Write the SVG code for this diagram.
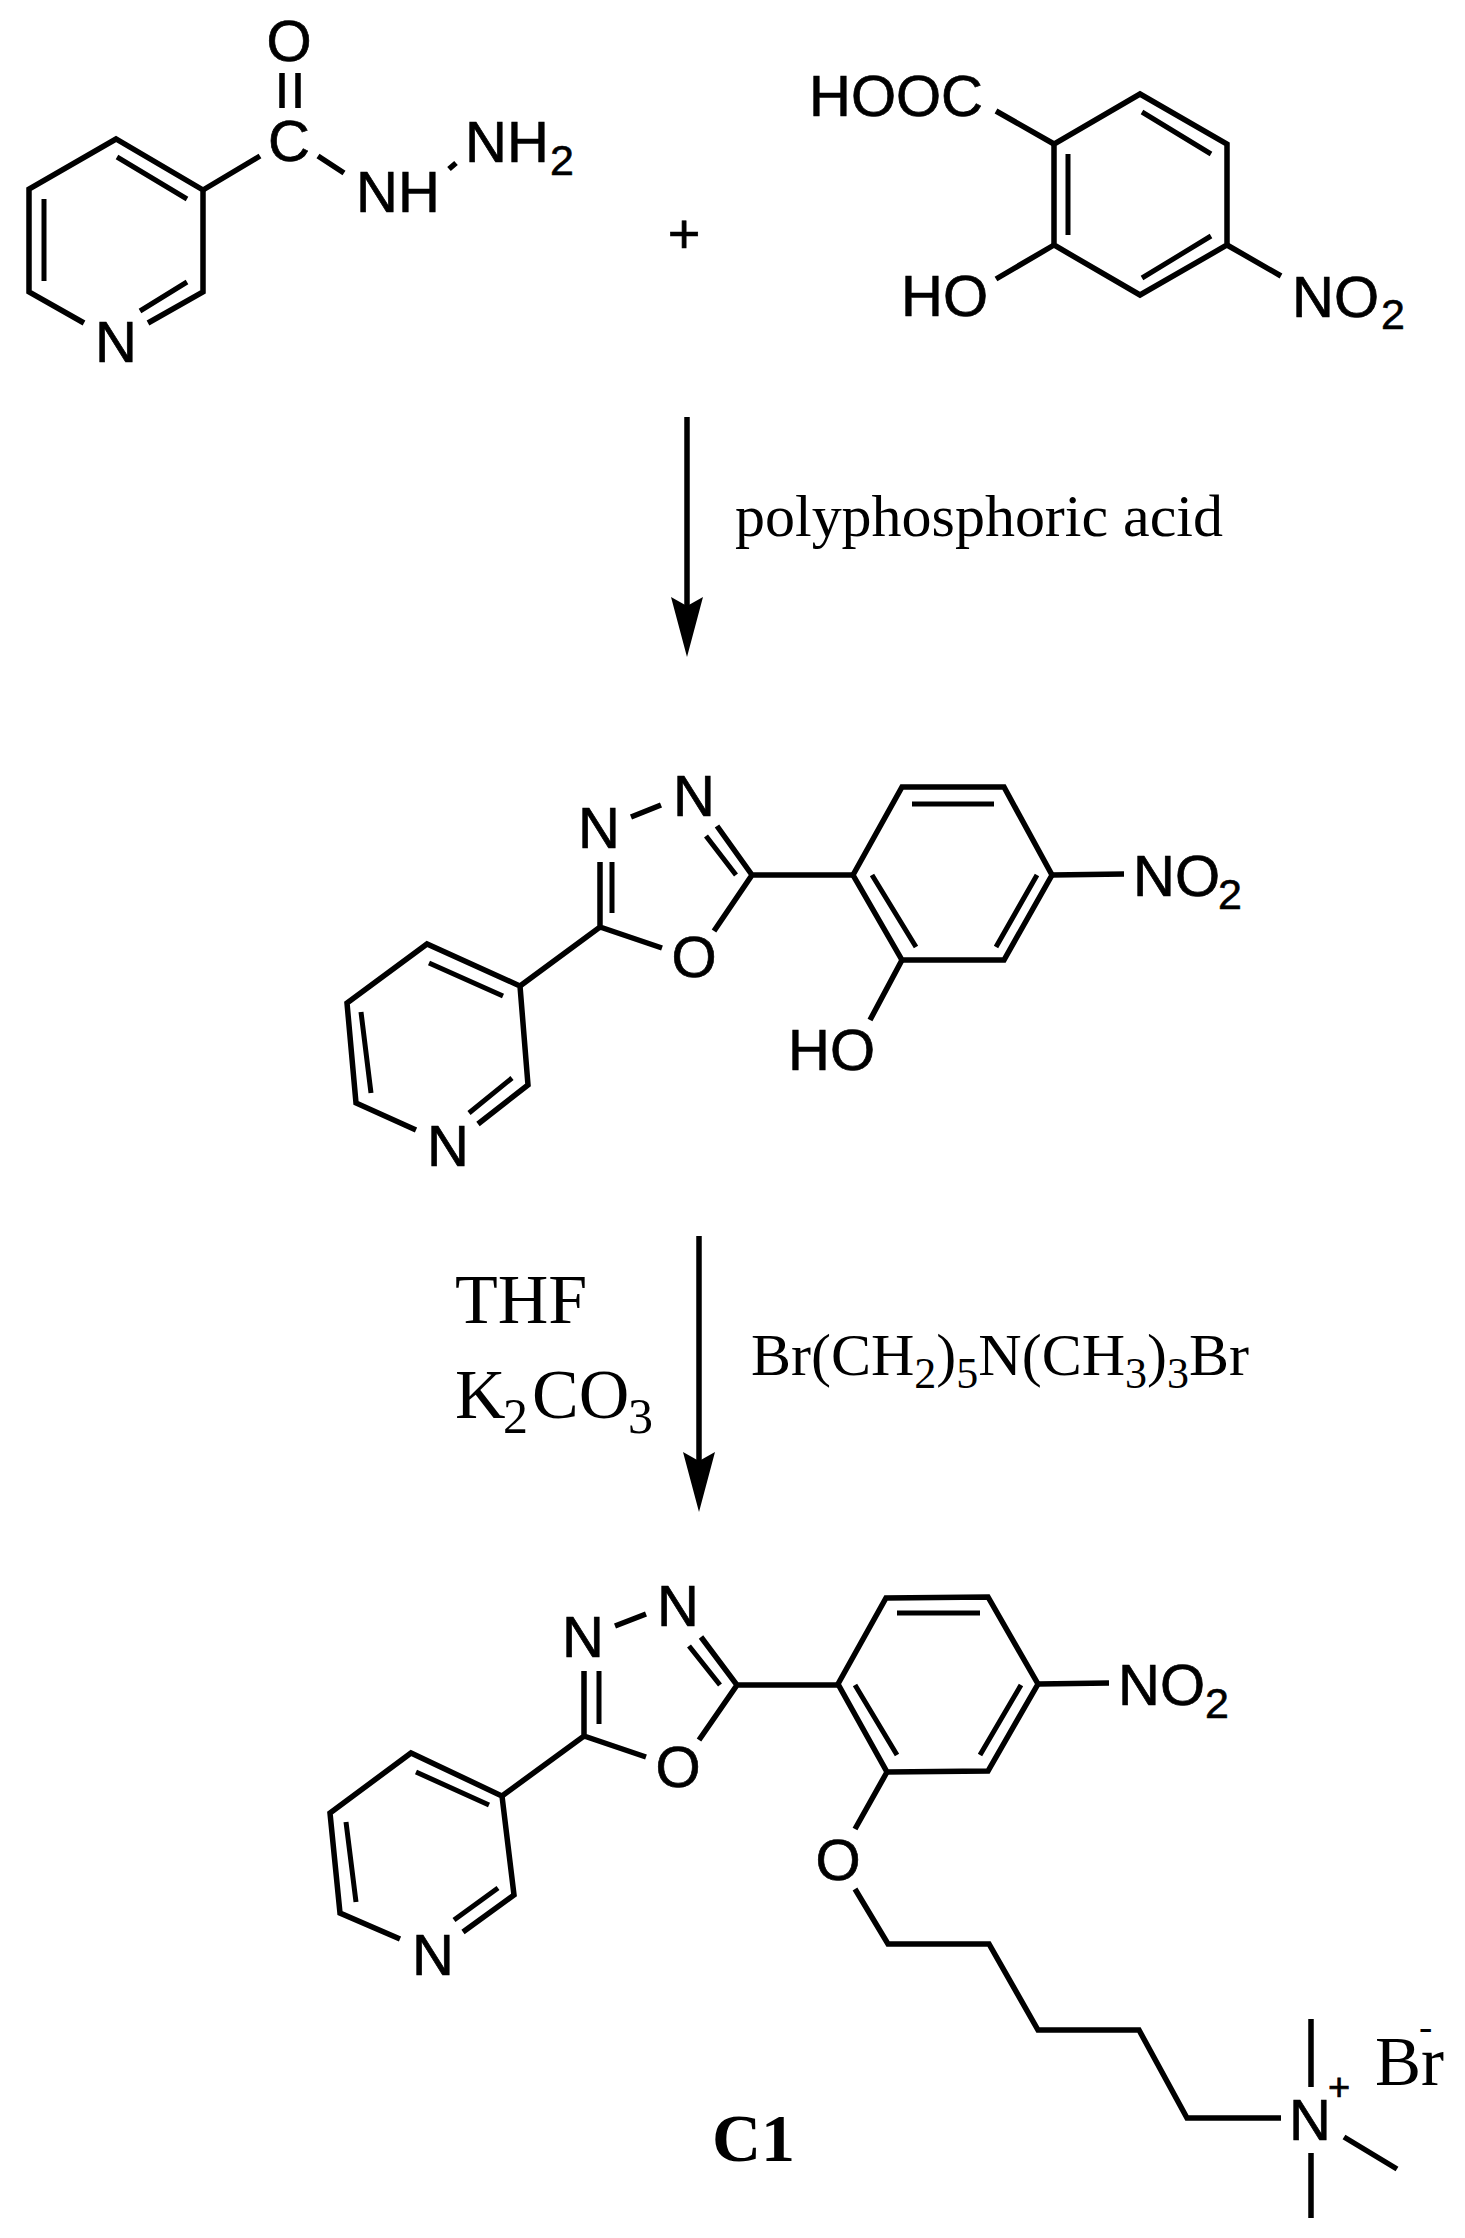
<svg xmlns="http://www.w3.org/2000/svg" width="1465" height="2238" viewBox="0 0 1465 2238">
<style>
.b{fill:none;stroke:#000;stroke-width:5.5;stroke-linecap:butt;stroke-linejoin:miter}
.i{fill:none;stroke:#000;stroke-width:5}
.a{font-family:"Liberation Sans",Arial,sans-serif;font-size:58px;fill:#000;stroke:#000;stroke-width:.7}
.s{font-family:"Liberation Sans",Arial,sans-serif;font-size:43px;fill:#000;stroke:#000;stroke-width:.6}
.t{font-family:"Liberation Serif","Times New Roman",serif;fill:#000}
.m{text-anchor:middle}
</style>
<defs>
<path id="head" d="M0 0L-16 -60L0 -51L16 -60Z" fill="#000"/>
</defs>
<rect width="1465" height="2238" fill="#fff"/>

<g id="nicotinic-hydrazide">
<path class="b" d="M84 323L29 292L29 189L116 139L203 190L203 292L148 323"/>
<path class="i" d="M140 311L187 282M44 199L44 281M117 157L187 199"/>
<path class="b" d="M203 190L260 156M318 156L344 173M449 169L456 163"/>
<path class="b" d="M282 73L282 108M298 73L298 108"/>
<text class="a m" x="116" y="362">N</text>
<text class="a m" x="289" y="161">C</text>
<text class="a m" x="289" y="61">O</text>
<text class="a" x="356" y="212">NH</text>
<text class="a" x="465" y="162">NH</text>
<text class="s" x="550" y="175">2</text>
</g>

<g id="plus"><text class="a m" x="684" y="253" style="font-size:56px">+</text></g>

<g id="nitrosalicylic-acid">
<path class="b" d="M1140 94L1227 144L1227 245L1140 295L1054 245L1054 144Z"/>
<path class="i" d="M1142 112L1211 154M1068 154L1068 235M1142 278L1211 236"/>
<path class="b" d="M996 111L1054 144M996 279L1054 245M1227 245L1281 276"/>
<text class="a" x="809" y="116">HOOC</text>
<text class="a" x="901" y="316">HO</text>
<text class="a" x="1292" y="317">NO</text>
<text class="s" x="1381" y="329">2</text>
</g>

<g id="connectors">
<path class="b" d="M687 417L687 610"/>
<use href="#head" x="687" y="657"/>
<path class="b" d="M699 1236L699 1465"/>
<use href="#head" x="699" y="1512"/>
</g>

<g id="label-polyphosphoric-acid"><text class="t" x="735" y="536" font-size="60" textLength="488">polyphosphoric acid</text></g>

<g id="oxadiazole-intermediate">
<path class="b" d="M416 1130L356 1103L347 1003L427 944L520 986L528 1085L478 1124"/>
<path class="i" d="M469 1113L512 1078M361 1012L371 1093M429 963L503 996"/>
<path class="b" d="M520 986L600 927L662 948M600 927L600 862M714 931L752 875L717 826M631 817L661 805M752 875L853 875"/>
<path class="i" d="M612 862L612 913M736 875L706 836"/>
<path class="b" d="M853 875L902 787L1004 787L1052 875L1004 960L902 960Z"/>
<path class="i" d="M912 804L994 804M872 875L916 947M1037 875L996 947"/>
<path class="b" d="M1052 875L1124 874M902 960L870 1020"/>
<text class="a m" x="448" y="1166">N</text>
<text class="a m" x="599" y="848">N</text>
<text class="a m" x="694" y="816">N</text>
<text class="a m" x="694" y="977">O</text>
<text class="a" x="1133" y="896">NO</text>
<text class="s" x="1218" y="909">2</text>
<text class="a" x="788" y="1070">HO</text>
</g>

<g id="label-thf"><text class="t" x="455" y="1323" font-size="70">THF</text></g>
<g id="label-k2co3">
<text class="t" x="455" y="1418" font-size="70">K</text>
<text class="t" x="503" y="1433" font-size="50">2</text>
<text class="t" x="532" y="1418" font-size="70">CO</text>
<text class="t" x="628" y="1433" font-size="50">3</text>
</g>
<g id="label-reagent">
<text class="t" x="751" y="1375" font-size="60">Br(CH<tspan font-size="44" dy="13">2</tspan><tspan dy="-13">)</tspan><tspan font-size="44" dy="13">5</tspan><tspan dy="-13">N(CH</tspan><tspan font-size="44" dy="13">3</tspan><tspan dy="-13">)</tspan><tspan font-size="44" dy="13">3</tspan><tspan dy="-13">Br</tspan></text>
</g>

<g id="C1-compound">
<path class="b" d="M400 1939L340 1913L330 1813L411 1753L502 1796L514 1895L463 1932"/>
<path class="i" d="M454 1920L498 1888M346 1822L356 1902M416 1772L489 1805"/>
<path class="b" d="M502 1796L584 1736L646 1757M584 1736L584 1671M699 1740L737 1685L701 1637M615 1626L646 1614M737 1685L838 1685"/>
<path class="i" d="M599 1671L599 1724M720 1685L689 1646"/>
<path class="b" d="M838 1684L886 1598L988 1597L1038 1684L988 1771L887 1772Z"/>
<path class="i" d="M897 1613L980 1613M855 1685L897 1755M1021 1685L980 1755"/>
<path class="b" d="M1038 1684L1109 1683M887 1772L855 1829"/>
<path class="b" d="M855 1889L888 1944L989 1944L1038 2030L1139 2030L1187 2118L1281 2118"/>
<path class="b" d="M1311 2019L1311 2087M1311 2153L1311 2218M1344 2137L1397 2169"/>
<text class="a m" x="433" y="1975">N</text>
<text class="a m" x="583" y="1657">N</text>
<text class="a m" x="678" y="1626">N</text>
<text class="a m" x="678" y="1787">O</text>
<text class="a" x="1118" y="1705">NO</text>
<text class="s" x="1205" y="1718">2</text>
<text class="a m" x="838" y="1880">O</text>
<text class="a m" x="1310" y="2140">N</text>
<text class="a m" x="1339" y="2100" style="font-size:38px">+</text>
<text class="t" x="1375" y="2085" font-size="69">Br</text>
<text class="t" x="1419" y="2040" font-size="40">-</text>
</g>

<g id="label-C1"><text class="t" x="712" y="2161" font-size="68" font-weight="bold">C1</text></g>
</svg>
